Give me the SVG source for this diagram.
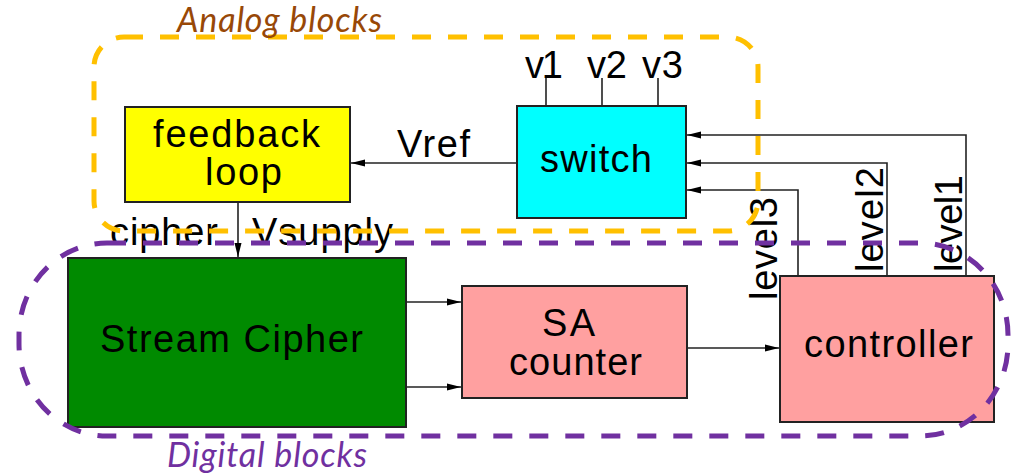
<svg xmlns="http://www.w3.org/2000/svg" width="1011" height="475" viewBox="0 0 1011 475">
<style>
.box{stroke:#222;stroke-width:2}
.lbl{font-family:"Liberation Sans",Arial,sans-serif;font-size:38px;fill:#000}
.conn{stroke:#222;stroke-width:1.6;fill:none}
.grp{font-family:Lato,"Liberation Sans",sans-serif;font-style:italic;font-size:34px}
.dash{fill:none;stroke-width:5;stroke-dasharray:19 17}
</style>
<defs>
<marker id="arr" markerWidth="16" markerHeight="10" refX="14" refY="5" orient="auto" markerUnits="userSpaceOnUse">
<path d="M0,1.5 L14,5 L0,8.5 z" fill="#000"/>
</marker>
</defs>
<rect width="1011" height="475" fill="#fff"/>
<g id="connectors">
<line class="conn" x1="517" y1="163" x2="351" y2="163" marker-end="url(#arr)"/>
<line class="conn" x1="238" y1="202" x2="238" y2="257" marker-end="url(#arr)"/>
<line class="conn" x1="406" y1="302" x2="461" y2="302" marker-end="url(#arr)"/>
<line class="conn" x1="406" y1="387" x2="461" y2="387" marker-end="url(#arr)"/>
<line class="conn" x1="687" y1="348" x2="779" y2="348" marker-end="url(#arr)"/>
<polyline class="conn" points="798,276 798,190 687,190" marker-end="url(#arr)"/>
<polyline class="conn" points="887,276 887,163 687,163" marker-end="url(#arr)"/>
<polyline class="conn" points="966,276 966,135 687,135" marker-end="url(#arr)"/>
<line class="conn" x1="546" y1="78" x2="546" y2="106"/>
<line class="conn" x1="602" y1="78" x2="602" y2="106"/>
<line class="conn" x1="658" y1="78" x2="658" y2="106"/>
<text class="lbl" x="397" y="157" textLength="73">Vref</text>
<text class="lbl" x="110" y="245" textLength="108">cipher</text>
<text class="lbl" x="252" y="245" textLength="141">Vsupply</text>
<text class="lbl" x="525" y="78" textLength="38">v1</text>
<text class="lbl" x="587" y="78" textLength="40">v2</text>
<text class="lbl" x="642" y="78" textLength="41">v3</text>
<text class="lbl" transform="translate(777,300) rotate(-90)" textLength="103">level3</text>
<text class="lbl" transform="translate(883,272) rotate(-90)" textLength="105">level2</text>
<text class="lbl" transform="translate(962,272) rotate(-90)" textLength="97">level1</text>
</g>
<g id="feedback">
<rect class="box" x="125" y="107" width="225" height="95" fill="#ffff00"/>
<text class="lbl" x="153" y="147" textLength="167">feedback</text>
<text class="lbl" x="205" y="185" textLength="77">loop</text>
</g>
<g id="switch">
<rect class="box" x="517" y="106" width="169" height="112" fill="#00ffff"/>
<text class="lbl" x="540" y="172" textLength="112">switch</text>
</g>
<g id="streamcipher">
<rect class="box" x="68" y="258" width="338" height="169" fill="#008a00"/>
<text class="lbl" x="100" y="352" textLength="263">Stream Cipher</text>
</g>
<g id="sacounter">
<rect class="box" x="462" y="286" width="225" height="112" fill="#ffa0a0"/>
<text class="lbl" x="542" y="336" textLength="53">SA</text>
<text class="lbl" x="509" y="375" textLength="133">counter</text>
</g>
<g id="controller">
<rect class="box" x="780" y="276" width="214" height="146" fill="#ffa0a0"/>
<text class="lbl" x="804" y="357" textLength="169">controller</text>
</g>
<g id="analog">
<rect class="dash" x="94" y="37" width="664" height="194" rx="30" ry="30" stroke="#ffc000"/>
<text class="grp" x="177" y="32" fill="#984807" textLength="205">Analog blocks</text>
</g>
<g id="digital">
<rect class="dash" x="19" y="243" width="989" height="193" rx="88" ry="92" stroke="#7030a0"/>
<text class="grp" x="167" y="467" fill="#7030a0" textLength="200">Digital blocks</text>
</g>
</svg>
